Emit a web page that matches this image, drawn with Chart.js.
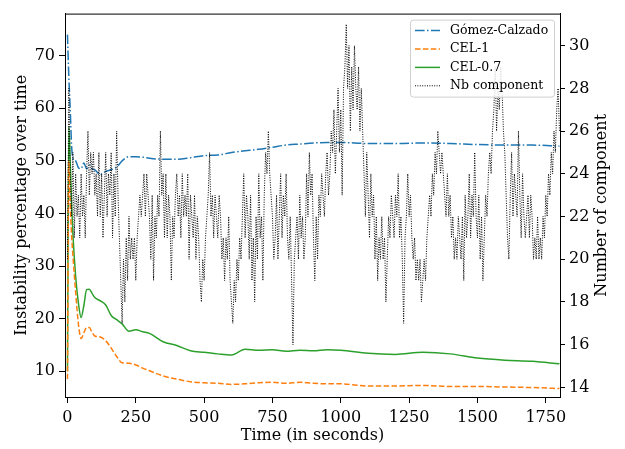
<!DOCTYPE html>
<html lang="en">
<head>
  <meta charset="UTF-8">
  <title>Instability over time</title>
  <style>
    body {
      margin: 0;
      padding: 0;
      background: #fff;
    }
    #chart-box {
      width: 625px;
      height: 449px;
    }
  </style>
</head>
<body>
  <div id="chart-box">
    <canvas id="instChart" width="625" height="449"></canvas>
  </div>

  <script src="https://cdn.jsdelivr.net/npm/chart.js"></script>
  <script>
    // Time samples (seconds) for the three instability curves
    const curveTimes = [0, 5, 10, 15, 20, 30, 40, 50, 60, 70, 80, 90, 100, 120, 140, 160, 180, 200, 225, 250, 275, 300,
      350, 400, 450, 500, 550, 600, 650, 700, 750, 800, 850, 900, 950, 1000, 1100, 1200, 1300, 1400, 1500, 1600, 1700, 1800];

    // Instability percentage (left axis)
    const gomezCalzado = [74, 66, 60, 53, 50.5, 50, 48.7, 48.5, 49.6, 48.5, 49.2, 48.5, 48.3, 47.4, 48, 48.3, 48.8, 50, 50.8, 50.8, 50.7, 50.5,
      50.3, 50.3, 50.6, 51, 51.1, 51.6, 51.9, 52.2, 52.6, 53, 53.2, 53.4, 53.5, 53.5, 53.3, 53.3, 53.4, 53.3, 53.1, 53, 53, 52.8];
    const cel1 = [8.5, 50, 42, 36, 32, 25, 19, 16.2, 17.3, 18.3, 18.3, 17.4, 16.7, 16.5, 15.8, 14.4, 12.8, 11.6, 11.5, 11.2, 10.6, 10.1,
      9.1, 8.5, 8.0, 7.8, 7.7, 7.5, 7.6, 7.8, 7.9, 7.7, 7.9, 7.7, 7.6, 7.6, 7.2, 7.2, 7.3, 7.1, 7.1, 7.0, 6.9, 6.7];
    const cel07 = [10, 56.5, 50, 42, 36, 28, 23, 20.2, 22.5, 25.5, 25.6, 24.8, 24, 23.4, 22.6, 20.6, 19.8, 19, 17.6, 17.9, 17.5, 17.2,
      15.6, 14.9, 13.9, 13.6, 13.3, 13.1, 14.2, 14.0, 14.1, 13.8, 14.0, 13.9, 14.1, 14.0, 13.4, 13.2, 13.6, 13.3, 12.5, 12.1, 11.9, 11.4];

    // Number of components (right axis), one value every 5 s from 0 to 1800 (one row per minute)
    const nbComponent = [
      20, 28, 24, 22, 25, 21, 24, 22, 23, 21, 24, 22,
      23, 21, 24, 26, 23, 25, 24, 25, 23, 24, 22, 25,
      22, 24, 21, 23, 25, 22, 24, 23, 25, 21, 24, 22,
      26, 23, 21, 19, 17, 20, 18, 21, 19, 22, 20, 21,
      20, 21, 19, 21, 22, 23, 22, 23, 24, 22, 24, 23,
      22, 20, 23, 19, 22, 21, 23, 22, 26, 23, 24, 21,
      24, 21, 23, 22, 19, 22, 21, 23, 24, 22, 23, 21,
      24, 22, 23, 22, 24, 20, 23, 22, 21, 23, 20, 22,
      21, 19, 18, 20, 19, 21, 22, 23, 25, 22, 23, 21,
      23, 22, 21, 23, 22, 20, 21, 19, 21, 20, 22, 19,
      18, 17, 19, 18, 20, 19, 21, 20, 22, 24, 21, 23,
      22, 20, 23, 19, 21, 18, 22, 20, 24, 21, 22, 19,
      23, 25, 24, 26, 24, 23, 22, 20, 21, 23, 20, 22,
      24, 21, 23, 22, 24, 21, 20, 22, 19, 16, 20, 21,
      22, 20, 23, 21, 22, 20, 21, 24, 22, 25, 23, 24,
      21, 19, 22, 20, 23, 22, 24, 23, 22, 24, 25, 23,
      24, 26, 25, 27, 24, 26, 28, 25, 27, 23, 28, 29,
      31, 28, 30, 26, 29, 27, 30, 28, 27, 29, 26, 28,
      26, 24, 22, 25, 23, 21, 24, 22, 23, 20, 22, 19,
      21, 20, 22, 20, 21, 18, 20, 22, 21, 23, 22, 21,
      23, 22, 24, 21, 22, 20, 17, 21, 22, 24, 22, 23,
      21, 20, 21, 19, 20, 19, 20, 18, 19, 20, 19, 21,
      22, 23, 22, 24, 23, 25, 24, 26, 25, 24, 25, 24,
      23, 22, 24, 22, 23, 21, 22, 20, 21, 20, 22, 21,
      20, 22, 19, 23, 21, 22, 24, 21, 23, 22, 25, 22,
      21, 23, 20, 22, 19, 21, 23, 22, 24, 25, 24, 26,
      27, 29, 26, 28, 27, 29, 28, 26, 25, 23, 21, 20,
      23, 25, 22, 24, 23, 22, 26, 23, 21, 24, 22, 21,
      22, 23, 21, 23, 22, 20, 21, 20, 22, 20, 21, 20,
      22, 21, 23, 22, 24, 23, 25, 24, 26, 25, 27, 28,
      26
    ];
    const nbStep = 5;

    // Tick labels
    const xTicks = [0, 250, 500, 750, 1000, 1250, 1500, 1750];
    const leftTicks = [10, 20, 30, 40, 50, 60, 70];
    const rightTicks = [14, 16, 18, 20, 22, 24, 26, 28, 30];

    const FONT = "'DejaVu Serif', serif";
    const rightTitle = 'Number of component';

    function toPoints(xs, ys) {
      return ys.map((y, i) => ({ x: xs[i], y: y }));
    }
    const nbPoints = nbComponent.map((v, i) => ({ x: i * nbStep, y: v }));

    // Matplotlib-like frame, right-hand label and legend drawn on the canvas
    const framePlugin = {
      id: 'frame',
      afterDraw(chart) {
        const { ctx, chartArea: a } = chart;
        ctx.save();
        ctx.strokeStyle = '#000';
        ctx.lineWidth = 1;
        ctx.strokeRect(a.left + 0.5, a.top + 0.5, a.right - a.left, a.bottom - a.top);

        // right axis title, read bottom to top
        ctx.save();
        ctx.translate(a.right + 41.5, (a.top + a.bottom) / 2);
        ctx.rotate(-Math.PI / 2);
        ctx.font = '16px ' + FONT;
        ctx.fillStyle = '#000';
        ctx.textAlign = 'center';
        ctx.textBaseline = 'middle';
        ctx.fillText(rightTitle, 0, 0);
        ctx.restore();

        // legend box
        const w = 144, h = 77;
        const x0 = a.right - 6 - w, y0 = a.top + 6;
        ctx.fillStyle = 'rgba(255,255,255,0.85)';
        ctx.strokeStyle = '#d0d0d0';
        ctx.beginPath();
        ctx.roundRect(x0 + 0.5, y0 + 0.5, w, h, 3);
        ctx.fill();
        ctx.stroke();
        ctx.font = '12.5px ' + FONT;
        ctx.textBaseline = 'middle';
        const rowGap = 18.4;
        chart.data.datasets.slice().sort((p, q) => p.legendIndex - q.legendIndex).forEach((ds, r) => {
          const yy = y0 + 11 + r * rowGap;
          ctx.strokeStyle = ds.borderColor;
          ctx.lineWidth = ds.borderWidth;
          ctx.setLineDash(ds.borderDash || []);
          ctx.beginPath();
          ctx.moveTo(x0 + 5, yy);
          ctx.lineTo(x0 + 30, yy);
          ctx.stroke();
          ctx.setLineDash([]);
          ctx.fillStyle = '#000';
          ctx.fillText(ds.label, x0 + 40, yy);
        });
        ctx.restore();
      }
    };

    const tickFont = { family: FONT, size: 16 };

    const ctx = document.getElementById('instChart').getContext('2d');
    new Chart(ctx, {
      type: 'line',
      data: {
        datasets: [
          {
            label: 'Nb component',
            legendIndex: 3,
            data: nbPoints,
            yAxisID: 'y2',
            borderColor: '#000',
            borderWidth: 1,
            borderDash: [1, 1.4],
            pointRadius: 0,
            tension: 0,
            order: 0
          },
          {
            label: 'Gómez-Calzado',
            legendIndex: 0,
            data: toPoints(curveTimes, gomezCalzado),
            yAxisID: 'y',
            borderColor: '#1f77b4',
            borderWidth: 1.5,
            borderDash: [9.6, 2.4, 1.5, 2.4],
            pointRadius: 0,
            cubicInterpolationMode: 'monotone',
            order: 1
          },
          {
            label: 'CEL-1',
            legendIndex: 1,
            data: toPoints(curveTimes, cel1),
            yAxisID: 'y',
            borderColor: '#ff7f0e',
            borderWidth: 1.5,
            borderDash: [5.5, 2.4],
            pointRadius: 0,
            cubicInterpolationMode: 'monotone',
            order: 2
          },
          {
            label: 'CEL-0.7',
            legendIndex: 2,
            data: toPoints(curveTimes, cel07),
            yAxisID: 'y',
            borderColor: '#2ca02c',
            borderWidth: 1.5,
            pointRadius: 0,
            cubicInterpolationMode: 'monotone',
            order: 3
          }
        ]
      },
      options: {
        responsive: false,
        animation: false,
        layout: { padding: { top: 6, left: 0, right: 0, bottom: 0 } },
        plugins: {
          legend: { display: false },
          tooltip: { enabled: false }
        },
        scales: {
          x: {
            type: 'linear',
            min: -9,
            max: 1802,
            afterBuildTicks: (s) => { s.ticks = xTicks.map(v => ({ value: v })); },
            afterFit: (s) => { s.height = 52; },
            grid: { drawOnChartArea: false, drawTicks: true, tickLength: 6, color: '#000' },
            border: { display: true, color: '#000', width: 1 },
            ticks: { color: '#000', padding: 5, maxRotation: 0, font: tickFont, callback: (v) => String(v) },
            title: {
              display: true,
              text: 'Time (in seconds)',
              color: '#000',
              padding: { top: 0, bottom: 4 },
              font: tickFont
            }
          },
          y: {
            type: 'linear',
            position: 'left',
            min: 5.1,
            max: 78,
            afterBuildTicks: (s) => { s.ticks = leftTicks.map(v => ({ value: v })); },
            afterFit: (s) => { s.width = 65; },
            grid: { drawOnChartArea: false, drawTicks: true, tickLength: 6, color: '#000' },
            border: { display: true, color: '#000', width: 1 },
            ticks: { color: '#000', padding: 4, font: tickFont },
            title: {
              display: true,
              text: 'Instability percentage over time',
              color: '#000',
              padding: { top: 12, bottom: 0 },
              font: tickFont
            }
          },
          y2: {
            type: 'linear',
            position: 'right',
            min: 13.55,
            max: 31.5,
            afterBuildTicks: (s) => { s.ticks = rightTicks.map(v => ({ value: v })); },
            afterFit: (s) => { s.width = 65; },
            grid: { drawOnChartArea: false, drawTicks: true, tickLength: 5, color: '#000' },
            border: { display: true, color: '#000', width: 1 },
            ticks: { color: '#000', padding: 4, font: tickFont },
            title: { display: false }
          }
        }
      },
      plugins: [framePlugin]
    });
  </script>
</body>
</html>
